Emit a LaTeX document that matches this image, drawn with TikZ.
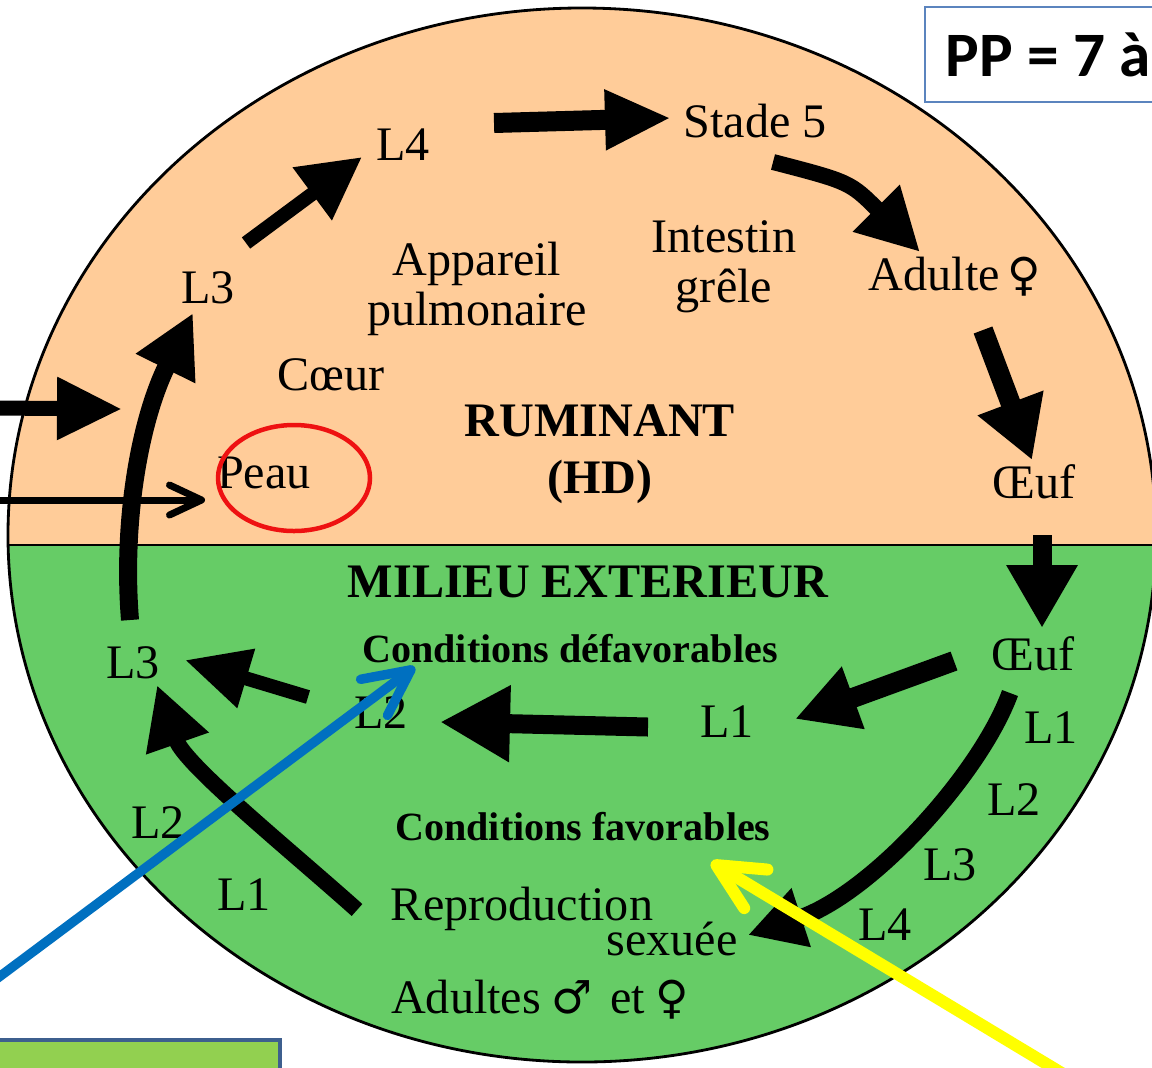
\documentclass[tikz,border=0pt]{standalone}
\usepackage{fontspec}
\setmainfont{Liberation Serif}
\newfontfamily\calibri{Carlito}
\newfontfamily\symb{DejaVu Sans}
\usetikzlibrary{arrows.meta}

\definecolor{peche}{HTML}{FFCC99}
\definecolor{prairie}{HTML}{66CC66}
\definecolor{bleu}{HTML}{0070C0}
\definecolor{jaune}{HTML}{FFFF00}
\definecolor{rouge}{HTML}{EE1111}
\definecolor{cadre}{HTML}{5B84BE}
\definecolor{cadrefonce}{HTML}{3E5F8E}
\definecolor{vertclair}{HTML}{92D050}

\newcommand{\femelle}{{\symb\fontsize{13}{15}\selectfont ♀}}
\newcommand{\male}{{\symb\fontsize{13}{15}\selectfont ♂}}

\tikzset{
  stade/.style={anchor=base, inner sep=0pt, font=\fontsize{13.7}{15}\selectfont},
  titre/.style={stade, font=\fontsize{13.7}{15}\selectfont\bfseries},
  condition/.style={stade, font=\fontsize{11.4}{14}\selectfont\bfseries},
  fleche/.style={line width=1.6mm, -{Triangle[length=6.2mm,width=6.2mm]}},
  pointeur/.style={line cap=round, -{Straight Barb[round,length=4.6mm,width=4.5mm]}}
}

\begin{document}
\begin{tikzpicture}[x=0.1mm,y=-0.1mm]
  \path[use as bounding box, clip] (0,0) rectangle (1152,1067);

  \begin{scope}
    \clip (582,535) ellipse [x radius=574, y radius=527];
    \fill[peche] (0,0) rectangle (1160,545);
    \fill[prairie] (0,545) rectangle (1160,1070);
    \draw[line width=0.8pt] (0,545) -- (1160,545);
  \end{scope}
  \draw[line width=0.8pt] (582,535) ellipse [x radius=574, y radius=527];

  % dans le ruminant
  \node[stade] (l4h) at (403,160) {L4};
  \node[stade] (stade5) at (755,137) {Stade 5};
  \node[stade] (l3h) at (208,303) {L3};
  \node[stade, align=center] (poumon) at (477,325) {Appareil\\[-1pt]pulmonaire};
  \node[stade, align=center] (intestin) at (724,302) {Intestin\\[-1pt]grêle};
  \node[stade] (adulte) at (955,290) {Adulte\,\femelle};
  \node[stade] (coeur) at (331,390) {Cœur};
  \node[titre, align=center] (ruminant) at (600,493) {RUMINANT\\[1pt](HD)};
  \node[stade] (peau) at (264,488) {Peau};
  \node[stade] (oeufh) at (1034,498) {Œuf};

  % milieu exterieur
  \node[titre] (milieu) at (588,597) {MILIEU EXTERIEUR};
  \node[condition] (defav) at (570,662) {Conditions défavorables};
  \node[stade] (oeufb) at (1033,670) {Œuf};
  \node[stade] (l3b) at (133,678) {L3};
  \node[stade] (l2b) at (381,728) {L2};
  \node[stade] (l1b) at (727,737) {L1};
  \node[stade] (l1d) at (1051,743) {L1};
  \node[stade] (l2d) at (1014,815) {L2};
  \node[stade] (l3d) at (950,880) {L3};
  \node[stade] (l4d) at (885,940) {L4};
  \node[stade] (l2g) at (158,838) {L2};
  \node[stade] (l1g) at (244,910) {L1};
  \node[condition] (fav) at (583,840) {Conditions favorables};
  \node[stade] (repro) at (522,920) {Reproduction};
  \node[stade] (sexuee) at (672,955) {sexuée};
  \node[stade] (adultes) at (540,1013) {Adultes\hspace{3pt}\male\hspace{5pt}et\hspace{3pt}\femelle};

  \draw[rouge, line width=0.45mm] (peau.base) ++(30,-10) ellipse [x radius=76, y radius=53];

  \coordinate (q1) at (246,243);  \coordinate (t1) at (362,157);
  \coordinate (q2) at (494,123);  \coordinate (t2) at (671,118);
  \coordinate (q3) at (773,162);  \coordinate (t3) at (920,252);
  \coordinate (q4) at (983,330);  \coordinate (t4) at (1032,460);
  \coordinate (q5) at (1042,535); \coordinate (t5) at (1042,628);
  \coordinate (q6) at (954,661);  \coordinate (t6) at (795,719);
  \coordinate (q7) at (648,727);  \coordinate (t7) at (440,722);
  \coordinate (q8) at (308,697);  \coordinate (t8) at (185,660);
  \coordinate (q9) at (357,910);  \coordinate (t9) at (157,685);
  \coordinate (q10) at (1010,693); \coordinate (t10) at (748,935);
  \coordinate (q11) at (130,620); \coordinate (t11) at (193,313);
  \coordinate (q12) at (-5,408);  \coordinate (t12) at (122,409);
  \coordinate (q13) at (-5,500);  \coordinate (t13) at (205,500);

  \draw[fleche, line width=1.4mm] (q1) -- (t1);
  \draw[fleche, line width=2mm, -{Triangle[length=6.6mm,width=5.6mm]}] (q2) -- (t2);
  \draw[fleche] (q3) .. controls (850,182) .. (t3);
  \draw[fleche, line width=2mm, -{Triangle[length=6.1mm,width=6.6mm]}] (q4) -- (t4);
  \draw[fleche, line width=1.9mm, -{Triangle[length=6.3mm,width=6.7mm]}] (q5) -- (t5);
  \draw[fleche, line width=2mm] (q6) -- (t6);
  \draw[fleche, line width=1.9mm, -{Triangle[length=7mm,width=7.2mm]}] (q7) -- (t7);
  \draw[fleche, line width=1.4mm, -{Triangle[length=6.4mm,width=5.8mm]}] (q8) -- (t8);
  \draw[fleche] (q9) .. controls (290,850) and (185,765) .. (t9);
  \draw[fleche, line width=1.7mm, -{Triangle[length=5.6mm,width=5.8mm]}] (q10) .. controls (980,775) and (870,895) .. (t10);
  \draw[fleche, line width=1.8mm] (q11) .. controls (122,520) and (140,420) .. (t11);
  \draw[fleche, line width=1.5mm, -{Triangle[length=6.5mm,width=5.9mm]}] (q12) -- (t12);
  \draw[pointeur, line width=0.7mm, -{Straight Barb[round,length=3.2mm,width=3mm]}] (q13) -- (t13);

  \coordinate (qb) at (-5,980);   \coordinate (qj) at (1065,1075);
  \draw[pointeur, bleu, line width=0.95mm] (qb) -- ([shift={(53,5)}]defav.base west);
  \draw[pointeur, jaune, line width=1.2mm] (qj) -- ([shift={(-60,22)}]fav.base east);

  \draw[cadre, line width=0.8pt] (925,7) rectangle (1170,102);
  \node[anchor=west, inner sep=0pt, font=\calibri\bfseries\fontsize{18}{20}\selectfont] (pp) at (945,55) {PP = 7 à};

  \draw[cadrefonce, fill=vertclair, line width=0.45mm] (-10,1040) rectangle (280,1090);
\end{tikzpicture}
\end{document}
